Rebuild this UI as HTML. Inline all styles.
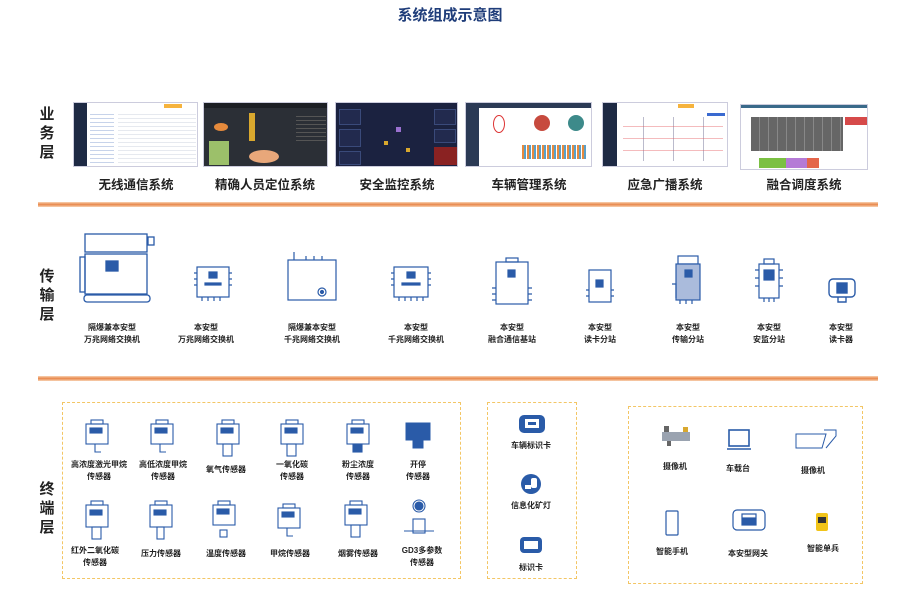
<!DOCTYPE html>
<html><head><meta charset="utf-8">
<style>
*{margin:0;padding:0;box-sizing:border-box}
body{width:899px;height:605px;background:#fff;position:relative;overflow:hidden;font-family:"Liberation Sans","Noto Sans CJK SC",sans-serif;color:#222}
.a{position:absolute}
.t{position:absolute;transform:translateX(-50%);white-space:nowrap;text-align:center;font-weight:bold;line-height:12px}
.s{font-size:8px}
.lay{position:absolute;font-size:15px;font-weight:bold;color:#222;left:38px;width:18px;text-align:center;line-height:19px}
.bar{position:absolute;left:38px;width:840px;height:5px;background:linear-gradient(#f8d3b4,#e8864a,#f8d3b4)}
.box{position:absolute;border:1.5px dashed #f3c665}
.scr{position:absolute;background:#fff;border:1px solid #ccd;overflow:hidden}
.cap{font-size:12.5px;font-weight:bold;position:absolute;transform:translateX(-50%);white-space:nowrap;top:174px}
svg{position:absolute}
.pn{position:absolute;border:1px solid #3a4a7a;background:#222a4e}
</style></head><body>
<div class="t" style="left:450px;top:7px;font-size:15px;color:#1f3d7a;line-height:18px">系统组成示意图</div>

<div class="lay" style="top:105px">业<br>务<br>层</div>
<div class="lay" style="top:267px">传<br>输<br>层</div>
<div class="lay" style="top:480px">终<br>端<br>层</div>

<!-- screens -->
<div class="scr" style="left:73px;top:102px;width:125px;height:65px"><div class="a" style="left:0;top:0;width:13px;height:65px;background:#1e2a44"></div><div class="a" style="left:16px;top:8px;width:24px;height:52px;background:repeating-linear-gradient(#fff 0 3px,#c7d3ea 3px 4px)"></div><div class="a" style="left:44px;top:8px;width:78px;height:52px;background:repeating-linear-gradient(#fff 0 3px,#e6e9ef 3px 4px)"></div><div class="a" style="left:90px;top:1px;width:18px;height:4px;background:#f6b33d"></div></div>
<div class="scr" style="left:203px;top:102px;width:125px;height:65px;background:#2b2f36"><div class="a" style="left:0;top:0;width:125px;height:5px;background:#1c1f24"></div><div class="a" style="left:45px;top:10px;width:6px;height:28px;background:#d9a82e"></div><div class="a" style="left:10px;top:20px;width:14px;height:8px;border-radius:50%;background:#e58a3c"></div><div class="a" style="left:5px;top:38px;width:20px;height:24px;background:#9cc06a"></div><div class="a" style="left:45px;top:47px;width:30px;height:13px;border-radius:50%;background:#e8a77a"></div><div class="a" style="left:92px;top:10px;width:30px;height:30px;background:repeating-linear-gradient(#2b2f36 0 3px,#555 3px 4px)"></div></div>
<div class="scr" style="left:335px;top:102px;width:123px;height:65px;background:#1b2240"><div class="pn" style="left:3px;top:6px;width:22px;height:16px"></div><div class="pn" style="left:3px;top:26px;width:22px;height:18px"></div><div class="pn" style="left:3px;top:48px;width:22px;height:14px"></div><div class="pn" style="left:98px;top:6px;width:22px;height:16px"></div><div class="pn" style="left:98px;top:26px;width:22px;height:14px"></div><div class="a" style="left:98px;top:44px;width:24px;height:18px;background:#8a2222"></div><div class="a" style="left:60px;top:24px;width:5px;height:5px;background:#9a70d0"></div><div class="a" style="left:48px;top:38px;width:4px;height:4px;background:#d9a82e"></div><div class="a" style="left:70px;top:45px;width:4px;height:4px;background:#d9a82e"></div></div>
<div class="scr" style="left:465px;top:102px;width:127px;height:65px"><div class="a" style="left:0;top:0;width:13px;height:65px;background:#2b3a55"></div><div class="a" style="left:0;top:0;width:127px;height:5px;background:#2b3a55"></div><div class="a" style="left:27px;top:12px;width:12px;height:18px;border:1.5px solid #d33;border-radius:50%"></div><div class="a" style="left:68px;top:12px;width:16px;height:16px;border-radius:50%;background:#c74a3e"></div><div class="a" style="left:102px;top:12px;width:16px;height:16px;border-radius:50%;background:#3d8a8a"></div><div class="a" style="left:56px;top:42px;width:65px;height:14px;background:repeating-linear-gradient(90deg,#e88a3c 0 2px,#5aa0c8 2px 4px,#fff 4px 5px)"></div></div>
<div class="scr" style="left:602px;top:102px;width:126px;height:65px"><div class="a" style="left:0;top:0;width:14px;height:65px;background:#1e2a44"></div><div class="a" style="left:75px;top:1px;width:16px;height:4px;background:#f6b33d"></div><div class="a" style="left:104px;top:10px;width:18px;height:3px;background:#3a6ad0"></div><div class="a" style="left:40px;top:14px;width:1px;height:44px;background:#bbc"></div><div class="a" style="left:70px;top:14px;width:1px;height:44px;background:#bbc"></div><div class="a" style="left:100px;top:14px;width:1px;height:44px;background:#bbc"></div><div class="a" style="left:20px;top:14px;width:100px;height:44px;background:repeating-linear-gradient(transparent 0 9px,#e4555a 9px 10px,transparent 10px 12px);opacity:.4"></div></div>
<div class="scr" style="left:740px;top:104px;width:128px;height:66px"><div class="a" style="left:0;top:0;width:128px;height:3px;background:#3a6a8a"></div><div class="a" style="left:10px;top:12px;width:92px;height:34px;background:repeating-linear-gradient(90deg,#666 0 8px,#888 8px 9px)"></div><div class="a" style="left:18px;top:53px;width:60px;height:10px;background:linear-gradient(90deg,#7bc043 0 45%,#b57ad6 45% 80%,#e4654a 80%)"></div><div class="a" style="left:104px;top:12px;width:22px;height:8px;background:#d64a4a"></div></div>
<div class="cap" style="left:136px">无线通信系统</div>
<div class="cap" style="left:265px">精确人员定位系统</div>
<div class="cap" style="left:397px">安全监控系统</div>
<div class="cap" style="left:529px">车辆管理系统</div>
<div class="cap" style="left:665px">应急广播系统</div>
<div class="cap" style="left:804px">融合调度系统</div>

<div class="bar" style="top:202px"></div>
<div class="bar" style="top:376px"></div>

<!-- transmission devices -->
<svg style="left:78px;top:232px" width="80" height="72" viewBox="0 0 80 72" fill="none" stroke="#2a5ba8" stroke-width="1.3"><rect x="7" y="2" width="62" height="18"/><rect x="7" y="22" width="62" height="40"/><rect x="28" y="29" width="12" height="10" fill="#2a5ba8"/><rect x="2" y="25" width="5" height="35"/><rect x="6" y="63" width="66" height="7" rx="3"/><rect x="70" y="5" width="6" height="8"/></svg>
<svg style="left:192px;top:263px" width="42" height="40" viewBox="0 0 42 40" fill="none" stroke="#2a5ba8" stroke-width="1.2"><rect x="5" y="4" width="32" height="30"/><rect x="17" y="9" width="8" height="6" fill="#2a5ba8"/><rect x="13" y="20" width="16" height="2" fill="#2a5ba8"/><path d="M2 10h3M2 16h3M2 22h3M37 10h3M37 16h3M37 22h3M10 34v4M16 34v4M22 34v4M28 34v4"/></svg>
<svg style="left:284px;top:250px" width="56" height="55" viewBox="0 0 56 55" fill="none" stroke="#2a5ba8" stroke-width="1.2"><rect x="4" y="10" width="48" height="40"/><path d="M10 2v8M22 6v4M30 6v4M38 6v4"/><circle cx="38" cy="42" r="4"/><circle cx="38" cy="42" r="1.5" fill="#2a5ba8"/></svg>
<svg style="left:389px;top:263px" width="44" height="40" viewBox="0 0 44 40" fill="none" stroke="#2a5ba8" stroke-width="1.2"><rect x="5" y="4" width="34" height="30"/><rect x="18" y="9" width="8" height="6" fill="#2a5ba8"/><rect x="13" y="20" width="18" height="2" fill="#2a5ba8"/><path d="M2 10h3M2 16h3M2 22h3M39 10h3M39 16h3M39 22h3M10 34v4M16 34v4M22 34v4M28 34v4M34 34v4"/></svg>
<svg style="left:490px;top:256px" width="44" height="50" viewBox="0 0 44 50" fill="none" stroke="#2a5ba8" stroke-width="1.2"><rect x="6" y="6" width="32" height="42"/><rect x="16" y="2" width="12" height="4"/><rect x="18" y="14" width="7" height="7" fill="#2a5ba8"/><path d="M2 32h4M2 38h4M2 44h4M38 32h4M38 38h4M38 44h4"/></svg>
<svg style="left:585px;top:266px" width="30" height="40" viewBox="0 0 30 40" fill="none" stroke="#2a5ba8" stroke-width="1.2"><rect x="4" y="4" width="22" height="32"/><rect x="11" y="14" width="7" height="7" fill="#2a5ba8"/><path d="M1 24h3M1 30h3M26 24h3M26 30h3"/></svg>
<svg style="left:668px;top:254px" width="40" height="52" viewBox="0 0 40 52" fill="#aabbdc" stroke="#2a5ba8" stroke-width="1.2"><rect x="10" y="2" width="20" height="8" fill="none"/><rect x="8" y="10" width="24" height="36"/><rect x="17" y="16" width="7" height="7" fill="#2a5ba8"/><path d="M4 30h4v14M12 46v4M18 46v4M24 46v4" fill="none"/></svg>
<svg style="left:752px;top:258px" width="34" height="48" viewBox="0 0 34 48" fill="none" stroke="#2a5ba8" stroke-width="1.2"><rect x="7" y="6" width="20" height="34"/><rect x="12" y="1" width="10" height="5"/><rect x="12" y="12" width="10" height="10" fill="#2a5ba8"/><path d="M3 12h4M3 20h4M3 28h4M27 12h4M27 20h4M27 28h4M12 40v4M17 40v4M22 40v4"/></svg>
<svg style="left:826px;top:276px" width="32" height="30" viewBox="0 0 32 30" fill="none" stroke="#2a5ba8" stroke-width="1.4"><rect x="3" y="3" width="26" height="18" rx="4"/><rect x="11" y="7" width="10" height="10" fill="#2a5ba8"/><path d="M12 21v5h8v-5"/></svg>

<div class="t s" style="left:112px;top:322px">隔爆兼本安型<br>万兆网络交换机</div>
<div class="t s" style="left:206px;top:322px">本安型<br>万兆网络交换机</div>
<div class="t s" style="left:312px;top:322px">隔爆兼本安型<br>千兆网络交换机</div>
<div class="t s" style="left:416px;top:322px">本安型<br>千兆网络交换机</div>
<div class="t s" style="left:512px;top:322px">本安型<br>融合通信基站</div>
<div class="t s" style="left:600px;top:322px">本安型<br>读卡分站</div>
<div class="t s" style="left:688px;top:322px">本安型<br>传输分站</div>
<div class="t s" style="left:769px;top:322px">本安型<br>安监分站</div>
<div class="t s" style="left:841px;top:322px">本安型<br>读卡器</div>

<!-- terminal boxes -->
<div class="box" style="left:62px;top:402px;width:399px;height:177px"></div>
<div class="box" style="left:487px;top:402px;width:90px;height:177px"></div>
<div class="box" style="left:628px;top:406px;width:235px;height:178px"></div>

<!-- sensors row1 -->
<svg style="left:83px;top:419px" width="28" height="38" viewBox="0 0 28 38" fill="none" stroke="#2a5ba8" stroke-width="1.1"><rect x="3" y="5" width="22" height="20"/><rect x="8" y="1" width="12" height="4"/><rect x="7" y="9" width="12" height="5" fill="#2a5ba8"/><path d="M12 25v8h6"/></svg>
<svg style="left:148px;top:419px" width="28" height="38" viewBox="0 0 28 38" fill="none" stroke="#2a5ba8" stroke-width="1.1"><rect x="3" y="5" width="22" height="20"/><rect x="8" y="1" width="12" height="4"/><rect x="7" y="9" width="12" height="5" fill="#2a5ba8"/><path d="M12 25v8h6"/></svg>
<svg style="left:214px;top:419px" width="28" height="40" viewBox="0 0 28 40" fill="none" stroke="#2a5ba8" stroke-width="1.1"><rect x="3" y="5" width="22" height="20"/><rect x="8" y="1" width="12" height="4"/><rect x="7" y="9" width="12" height="5" fill="#2a5ba8"/><rect x="9" y="25" width="9" height="12"/></svg>
<svg style="left:278px;top:419px" width="28" height="40" viewBox="0 0 28 40" fill="none" stroke="#2a5ba8" stroke-width="1.1"><rect x="3" y="5" width="22" height="20"/><rect x="8" y="1" width="12" height="4"/><rect x="7" y="9" width="12" height="5" fill="#2a5ba8"/><rect x="9" y="25" width="9" height="12"/></svg>
<svg style="left:344px;top:419px" width="28" height="40" viewBox="0 0 28 40" fill="none" stroke="#2a5ba8" stroke-width="1.1"><rect x="3" y="5" width="22" height="20"/><rect x="8" y="1" width="12" height="4"/><rect x="7" y="9" width="12" height="5" fill="#2a5ba8"/><rect x="9" y="25" width="9" height="8" fill="#2a5ba8"/></svg>
<svg style="left:403px;top:419px" width="30" height="34" viewBox="0 0 30 34" fill="#2a5ba8" stroke="#2a5ba8"><rect x="3" y="4" width="24" height="17"/><rect x="10" y="21" width="10" height="8"/></svg>
<div class="t s" style="left:99px;top:459px">高浓度激光甲烷<br>传感器</div>
<div class="t s" style="left:163px;top:459px">高低浓度甲烷<br>传感器</div>
<div class="t s" style="left:226px;top:464px">氧气传感器</div>
<div class="t s" style="left:292px;top:459px">一氧化碳<br>传感器</div>
<div class="t s" style="left:358px;top:459px">粉尘浓度<br>传感器</div>
<div class="t s" style="left:418px;top:459px">开停<br>传感器</div>

<!-- row2 -->
<svg style="left:83px;top:500px" width="28" height="42" viewBox="0 0 28 42" fill="none" stroke="#2a5ba8" stroke-width="1.1"><rect x="3" y="5" width="22" height="22"/><rect x="8" y="1" width="12" height="4"/><rect x="7" y="10" width="12" height="5" fill="#2a5ba8"/><rect x="9" y="27" width="9" height="12"/></svg>
<svg style="left:147px;top:500px" width="28" height="42" viewBox="0 0 28 42" fill="none" stroke="#2a5ba8" stroke-width="1.1"><rect x="3" y="5" width="22" height="22"/><rect x="8" y="1" width="12" height="4"/><rect x="7" y="10" width="12" height="5" fill="#2a5ba8"/><rect x="10" y="27" width="7" height="12"/></svg>
<svg style="left:210px;top:500px" width="28" height="42" viewBox="0 0 28 42" fill="none" stroke="#2a5ba8" stroke-width="1.1"><rect x="3" y="5" width="22" height="20"/><rect x="8" y="1" width="12" height="4"/><rect x="7" y="9" width="12" height="5" fill="#2a5ba8"/><rect x="10" y="30" width="7" height="7"/></svg>
<svg style="left:275px;top:503px" width="28" height="38" viewBox="0 0 28 38" fill="none" stroke="#2a5ba8" stroke-width="1.1"><rect x="3" y="5" width="22" height="20"/><rect x="8" y="1" width="12" height="4"/><rect x="7" y="9" width="12" height="5" fill="#2a5ba8"/><path d="M12 25v8h6"/></svg>
<svg style="left:342px;top:500px" width="28" height="42" viewBox="0 0 28 42" fill="none" stroke="#2a5ba8" stroke-width="1.1"><rect x="3" y="5" width="22" height="20"/><rect x="8" y="1" width="12" height="4"/><rect x="7" y="9" width="12" height="5" fill="#2a5ba8"/><rect x="9" y="25" width="9" height="12"/></svg>
<svg style="left:402px;top:497px" width="34" height="44" viewBox="0 0 34 44" fill="none" stroke="#2a5ba8" stroke-width="1.1"><circle cx="17" cy="9" r="6"/><circle cx="17" cy="9" r="4" fill="#2a5ba8"/><rect x="11" y="22" width="12" height="14"/><path d="M2 34h30"/></svg>
<div class="t s" style="left:95px;top:545px">红外二氧化碳<br>传感器</div>
<div class="t s" style="left:161px;top:548px">压力传感器</div>
<div class="t s" style="left:226px;top:548px">温度传感器</div>
<div class="t s" style="left:290px;top:548px">甲烷传感器</div>
<div class="t s" style="left:358px;top:548px">烟雾传感器</div>
<div class="t s" style="left:422px;top:545px">GD3多参数<br>传感器</div>

<!-- middle box -->
<svg style="left:517px;top:413px" width="30" height="22" viewBox="0 0 30 22"><rect x="2" y="2" width="26" height="18" rx="5" fill="#2a5ba8"/><rect x="8" y="6" width="14" height="9" fill="#fff"/><rect x="11" y="9" width="8" height="3" fill="#2a5ba8"/></svg>
<div class="t s" style="left:531px;top:440px">车辆标识卡</div>
<svg style="left:520px;top:473px" width="22" height="22" viewBox="0 0 22 22"><circle cx="11" cy="11" r="10" fill="#2a5ba8"/><rect x="11" y="5" width="6" height="10" rx="2" fill="#fff"/><rect x="5" y="12" width="6" height="4" fill="#fff"/></svg>
<div class="t s" style="left:531px;top:500px">信息化矿灯</div>
<svg style="left:519px;top:535px" width="24" height="20" viewBox="0 0 24 20"><rect x="1" y="2" width="22" height="16" rx="4" fill="#2a5ba8"/><rect x="5" y="6" width="14" height="8" fill="#fff"/></svg>
<div class="t s" style="left:531px;top:562px">标识卡</div>

<!-- right box -->
<svg style="left:659px;top:424px" width="34" height="24" viewBox="0 0 34 24"><rect x="3" y="8" width="28" height="9" fill="#9aa3b0"/><rect x="5" y="2" width="5" height="6" fill="#666"/><rect x="24" y="3" width="5" height="5" fill="#d9a82e"/><rect x="8" y="17" width="4" height="5" fill="#666"/></svg>
<div class="t s" style="left:675px;top:461px">摄像机</div>
<svg style="left:726px;top:427px" width="26" height="26" viewBox="0 0 26 26" fill="none" stroke="#2a5ba8" stroke-width="1.6"><rect x="3" y="3" width="20" height="16"/><path d="M1 22h24"/></svg>
<div class="t s" style="left:738px;top:463px">车载台</div>
<svg style="left:794px;top:427px" width="45" height="26" viewBox="0 0 45 26" fill="none" stroke="#2a5ba8" stroke-width="1"><path d="M2 7h30l-4 14H2zM30 3h12v6l-10 12"/></svg>
<div class="t s" style="left:813px;top:465px">摄像机</div>
<svg style="left:664px;top:509px" width="16" height="28" viewBox="0 0 16 28" fill="none" stroke="#2a5ba8" stroke-width="1.2"><rect x="2" y="2" width="12" height="24" rx="1"/></svg>
<div class="t s" style="left:672px;top:546px">智能手机</div>
<svg style="left:731px;top:508px" width="36" height="24" viewBox="0 0 36 24" fill="none" stroke="#2a5ba8" stroke-width="1.2"><rect x="2" y="2" width="32" height="20" rx="4"/><rect x="11" y="6" width="14" height="4"/><rect x="11" y="11" width="14" height="6" fill="#2a5ba8"/></svg>
<div class="t s" style="left:748px;top:548px">本安型网关</div>
<svg style="left:815px;top:512px" width="14" height="20" viewBox="0 0 14 20"><rect x="1" y="1" width="12" height="18" rx="2" fill="#f1c419"/><rect x="3" y="5" width="8" height="6" fill="#333"/></svg>
<div class="t s" style="left:823px;top:543px">智能单兵</div>
</body></html>
